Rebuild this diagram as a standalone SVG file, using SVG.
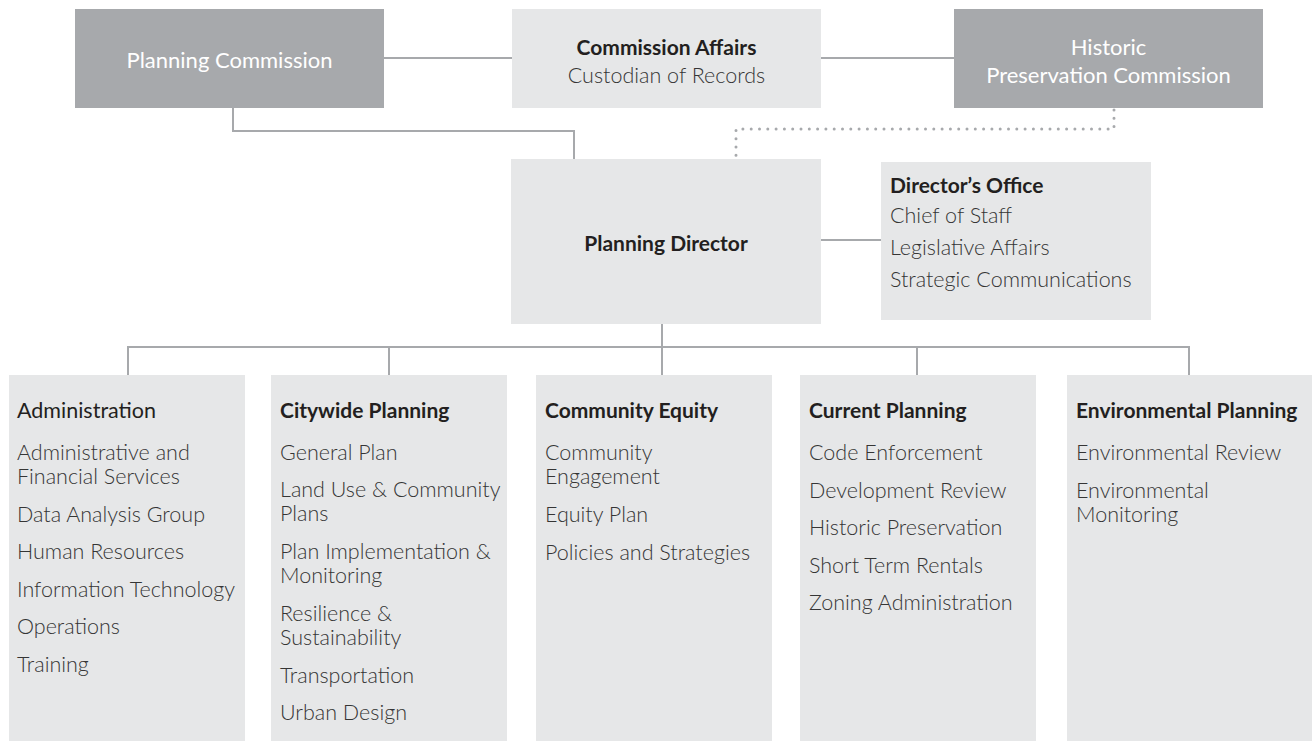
<svg xmlns="http://www.w3.org/2000/svg" width="1312" height="741" viewBox="0 0 1312 741">
<style>
.dark{fill:#a7a9ac}
.light{fill:#e6e7e8}
.wt{font-family:Lato,"Liberation Sans",sans-serif;font-size:22px;font-weight:400;fill:#ffffff;text-anchor:middle}
.hd{font-family:Lato,"Liberation Sans",sans-serif;font-size:21px;font-weight:700;fill:#231f20}
.hdr{font-family:Lato,"Liberation Sans",sans-serif;font-size:21.5px;font-weight:400;fill:#231f20}
.it{font-family:Lato,"Liberation Sans",sans-serif;font-size:21.5px;font-weight:300;fill:#353535}
.c{text-anchor:middle}
.ln{fill:none;stroke:#a7a9ac;stroke-width:2}
.dot{fill:none;stroke:#a7a9ac;stroke-width:3;stroke-linecap:round;stroke-dasharray:0 8.3}
</style>
<rect width="1312" height="741" fill="#ffffff"/>
<g id="connectors">
<path class="ln" d="M384 58H512"/>
<path class="ln" d="M821 58H954"/>
<path class="ln" d="M233 108V131H574V159"/>
<path class="dot" d="M1114 110V129H736V158"/>
<path class="ln" d="M821 240H881"/>
<path class="ln" d="M662 324V375"/>
<path class="ln" d="M128 347H1189"/>
<path class="ln" d="M128 346V375"/>
<path class="ln" d="M389 347V375"/>
<path class="ln" d="M917 347V375"/>
<path class="ln" d="M1189 346V375"/>
</g>
<g id="planning-commission">
<rect class="dark" x="75" y="9" width="309" height="99"/>
<text class="wt" x="229.5" y="68">Planning Commission</text>
</g>
<g id="commission-affairs">
<rect class="light" x="512" y="9" width="309" height="99"/>
<text class="hd c" x="666.5" y="55">Commission Affairs</text>
<text class="it c" x="666.5" y="83">Custodian of Records</text>
</g>
<g id="historic-preservation-commission">
<rect class="dark" x="954" y="9" width="309" height="99"/>
<text class="wt" x="1108.5" y="55">Historic</text>
<text class="wt" x="1108.5" y="83">Preservation Commission</text>
</g>
<g id="planning-director">
<rect class="light" x="511" y="159" width="310" height="165"/>
<text class="hd c" x="666" y="251">Planning Director</text>
</g>
<g id="directors-office">
<rect class="light" x="881" y="162" width="270" height="158"/>
<text class="hd" x="890" y="193">Director’s Office</text>
<text class="it" x="890" y="223">Chief of Staff</text>
<text class="it" x="890" y="255">Legislative Affairs</text>
<text class="it" x="890" y="287">Strategic Communications</text>
</g>
<g id="administration">
<rect class="light" x="9" y="375" width="236" height="366"/>
<text class="hdr" x="17" y="418">Administration</text>
<text class="it" x="17" y="460">Administrative and</text>
<text class="it" x="17" y="484">Financial Services</text>
<text class="it" x="17" y="522">Data Analysis Group</text>
<text class="it" x="17" y="559">Human Resources</text>
<text class="it" x="17" y="597">Information Technology</text>
<text class="it" x="17" y="634">Operations</text>
<text class="it" x="17" y="672">Training</text>
</g>
<g id="citywide-planning">
<rect class="light" x="271" y="375" width="236" height="366"/>
<text class="hd" x="280" y="418">Citywide Planning</text>
<text class="it" x="280" y="460">General Plan</text>
<text class="it" x="280" y="497">Land Use &amp; Community</text>
<text class="it" x="280" y="521">Plans</text>
<text class="it" x="280" y="559">Plan Implementation &amp;</text>
<text class="it" x="280" y="583">Monitoring</text>
<text class="it" x="280" y="621">Resilience &amp;</text>
<text class="it" x="280" y="645">Sustainability</text>
<text class="it" x="280" y="683">Transportation</text>
<text class="it" x="280" y="720">Urban Design</text>
</g>
<g id="community-equity">
<rect class="light" x="536" y="375" width="236" height="366"/>
<text class="hd" x="545" y="418">Community Equity</text>
<text class="it" x="545" y="460">Community</text>
<text class="it" x="545" y="484">Engagement</text>
<text class="it" x="545" y="522">Equity Plan</text>
<text class="it" x="545" y="560">Policies and Strategies</text>
</g>
<g id="current-planning">
<rect class="light" x="800" y="375" width="236" height="366"/>
<text class="hd" x="809" y="418">Current Planning</text>
<text class="it" x="809" y="460">Code Enforcement</text>
<text class="it" x="809" y="498">Development Review</text>
<text class="it" x="809" y="535">Historic Preservation</text>
<text class="it" x="809" y="573">Short Term Rentals</text>
<text class="it" x="809" y="610">Zoning Administration</text>
</g>
<g id="environmental-planning">
<rect class="light" x="1067" y="375" width="245" height="366"/>
<text class="hd" x="1076" y="418">Environmental Planning</text>
<text class="it" x="1076" y="460">Environmental Review</text>
<text class="it" x="1076" y="498">Environmental</text>
<text class="it" x="1076" y="522">Monitoring</text>
</g>
</svg>
